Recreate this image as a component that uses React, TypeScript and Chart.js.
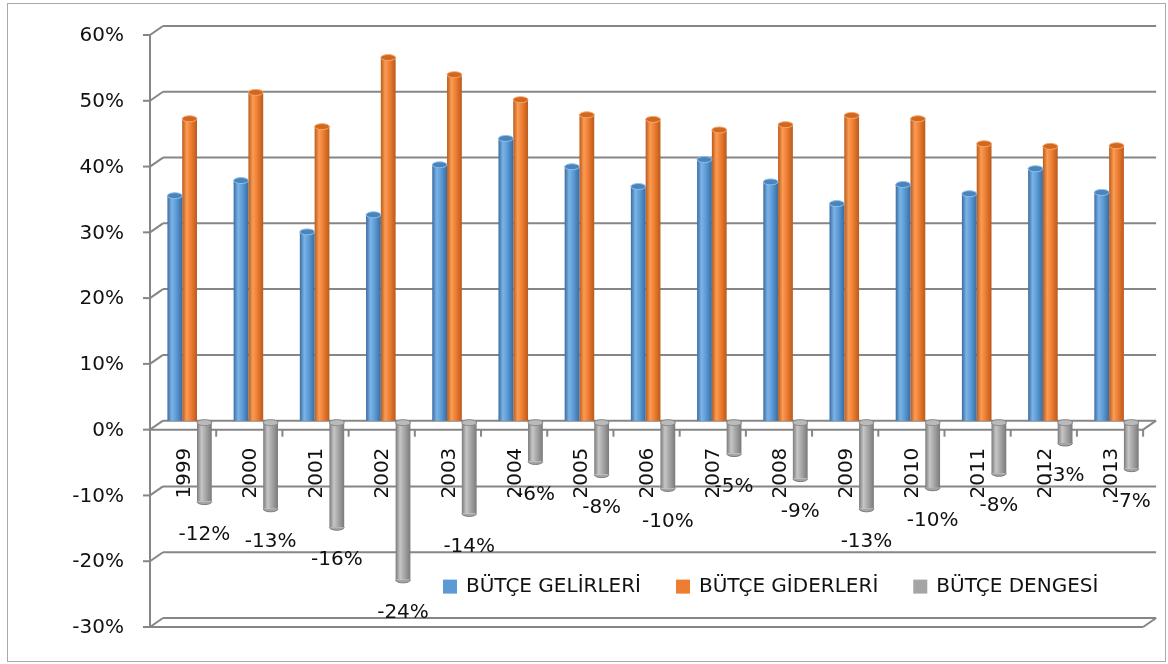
import React, { useEffect, useRef } from 'react';
import { Chart, registerables } from 'chart.js';

Chart.register(...registerables);

// ---- data ----
const categories = ['1999', '2000', '2001', '2002', '2003', '2004', '2005', '2006', '2007', '2008', '2009', '2010', '2011', '2012', '2013'];
const revenues = [34.2, 36.5, 28.7, 31.3, 38.9, 42.9, 38.6, 35.6, 39.7, 36.3, 33.0, 35.9, 34.5, 38.3, 34.7];
const expenditures = [45.9, 49.9, 44.7, 55.2, 52.6, 48.8, 46.5, 45.8, 44.2, 45.0, 46.4, 45.9, 42.1, 41.7, 41.8];
const balance = [-12.3, -13.4, -16.2, -24.2, -14.1, -6.2, -8.2, -10.3, -5.0, -8.8, -13.4, -10.2, -8.0, -3.4, -7.3];
const seriesNames = ['BÜTÇE GELİRLERİ', 'BÜTÇE GİDERLERİ', 'BÜTÇE DENGESİ'];
const yMin = -30;
const yMax = 60;
const yStep = 10;

// ---- style ----
const FONT = 'DejaVu Sans';
const FONT_SIZE = 20;
const TEXT = '#111111';
const GRID = '#868686';
const DX = 13; // 3D depth offset (x)
const DY = 9; // 3D depth offset (y)
const CAT_PCT = 0.67;

const palettes = [
  { base: '#5b9bd5', dark: '#3a6ca2', light: '#7cb3e7', cap: '#4a84bc', rim: '#8fbfea' },
  { base: '#ed7d31', dark: '#bb5a1a', light: '#fa9c55', cap: '#d2671e', rim: '#f5a86d' },
  { base: '#a5a5a5', dark: '#7a7a7a', light: '#c6c6c6', cap: '#bababa', rim: '#8a8a8a' },
];

function barFill(ctx: any) {
  const p = palettes[ctx.datasetIndex] || palettes[0];
  if (ctx.type !== 'data') return p.base;
  const xs = ctx.chart.scales && ctx.chart.scales.x;
  if (!xs || xs.right == null || !isFinite(xs.right)) return p.base;
  const n = categories.length;
  const catW = (xs.right - xs.left) / n;
  const groupW = catW * CAT_PCT;
  const barW = groupW / 3;
  const left = xs.getPixelForValue(ctx.dataIndex) - groupW / 2 + ctx.datasetIndex * barW;
  if (!isFinite(left)) return p.base;
  const g = ctx.chart.ctx.createLinearGradient(left, 0, left + barW, 0);
  g.addColorStop(0, p.dark);
  g.addColorStop(0.3, p.light);
  g.addColorStop(0.6, p.base);
  g.addColorStop(1, p.dark);
  return g;
}

const framePlugin = {
  id: 'frame3d',
  beforeDraw(chart: any) {
    const c = chart.ctx;
    c.save();
    c.strokeStyle = '#a9a9a9';
    c.lineWidth = 1;
    c.strokeRect(7.5, 3.5, 1158, 658);
    c.restore();
  },
  beforeDatasetsDraw(chart: any) {
    const c = chart.ctx;
    const ys = chart.scales.y;
    const area = chart.chartArea;
    const frontL = area.left - DX / 2;
    const backL = area.left + DX / 2;
    const frontR = area.right - DX / 2;
    const backR = area.right + DX / 2;
    c.save();
    c.strokeStyle = GRID;
    c.lineWidth = 2;
    c.lineCap = 'butt';
    const line = (x1: number, y1: number, x2: number, y2: number) => {
      c.beginPath();
      c.moveTo(x1, y1);
      c.lineTo(x2, y2);
      c.stroke();
    };
    for (let v = yMin; v <= yMax; v += yStep) {
      const yb = ys.getPixelForValue(v);
      const yf = yb + DY;
      line(backL, yb, backR, yb);
      line(frontL, yf, backL, yb);
      line(frontL - 7, yf, frontL, yf);
    }
    // front vertical axis
    line(frontL, ys.getPixelForValue(yMax) + DY, frontL, ys.getPixelForValue(yMin) + DY);
    // floor edge at zero
    const yb0 = ys.getPixelForValue(0);
    const yf0 = yb0 + DY;
    line(frontL, yf0, frontR, yf0);
    line(frontR, yf0, backR, yb0);
    const n = categories.length;
    const catW = (frontR - frontL) / n;
    for (let k = 0; k <= n; k++) {
      const x = frontL + k * catW;
      line(x, yf0, x, yf0 + 7);
    }
    // bottom floor edge
    const ybm = ys.getPixelForValue(yMin);
    const yfm = ybm + DY;
    line(frontL, yfm, frontR, yfm);
    line(frontR, yfm, backR, ybm);
    c.restore();
  },
  afterDatasetsDraw(chart: any) {
    const c = chart.ctx;
    c.save();
    chart.data.datasets.forEach((ds: any, di: number) => {
      const meta = chart.getDatasetMeta(di);
      const p = palettes[di];
      meta.data.forEach((el: any, i: number) => {
        const v = ds.data[i];
        const w = el.width;
        const rx = w / 2;
        const ry = 3;
        if (v >= 0) {
          c.beginPath();
          c.ellipse(el.x, el.y, rx, ry, 0, 0, Math.PI * 2);
          c.fillStyle = p.cap;
          c.fill();
          c.strokeStyle = p.rim;
          c.lineWidth = 1;
          c.stroke();
        } else {
          c.beginPath();
          c.ellipse(el.x, el.y, rx, ry, 0, 0, Math.PI);
          c.fillStyle = p.base;
          c.fill();
          c.strokeStyle = p.dark;
          c.lineWidth = 1;
          c.stroke();
          c.beginPath();
          c.ellipse(el.x, el.base + 2, rx, ry, 0, 0, Math.PI * 2);
          c.fillStyle = p.cap;
          c.fill();
          c.strokeStyle = p.rim;
          c.stroke();
        }
      });
    });
    // data labels on balance series
    const meta = chart.getDatasetMeta(2);
    c.fillStyle = TEXT;
    c.font = `${FONT_SIZE}px "${FONT}"`;
    c.textAlign = 'center';
    c.textBaseline = 'middle';
    meta.data.forEach((el: any, i: number) => {
      c.fillText(`${Math.round(balance[i])}%`, el.x, el.y + 33);
    });
    c.restore();
  },
  afterDraw(chart: any) {
    const c = chart.ctx;
    c.save();
    c.font = `${FONT_SIZE}px "${FONT}"`;
    c.textAlign = 'left';
    c.textBaseline = 'middle';
    const cy = chart.scales.y.getPixelForValue(-25) + 1.5;
    let x = 443;
    seriesNames.forEach((name, i) => {
      c.fillStyle = palettes[i].base;
      c.fillRect(x, cy - 7, 14, 14);
      c.fillStyle = TEXT;
      const tx = x + 23;
      c.fillText(name, tx, cy);
      x = tx + c.measureText(name).width + 35;
    });
    c.restore();
  },
};

export default function App() {
  const ref = useRef<HTMLCanvasElement>(null);
  useEffect(() => {
    if (!ref.current) return;
    const chart = new Chart(ref.current, {
      type: 'bar',
      data: {
        labels: categories,
        datasets: [
          { label: seriesNames[0], data: revenues, backgroundColor: barFill, borderWidth: 0 },
          { label: seriesNames[1], data: expenditures, backgroundColor: barFill, borderWidth: 0 },
          { label: seriesNames[2], data: balance, backgroundColor: barFill, borderWidth: 0 },
        ],
      },
      options: {
        animation: false,
        responsive: false,
        events: [],
        datasets: { bar: { categoryPercentage: CAT_PCT, barPercentage: 1 } },
        layout: { padding: { left: 0, right: 14.5, top: 26, bottom: 46 } },
        plugins: { legend: { display: false }, tooltip: { enabled: false }, title: { display: false } },
        scales: {
          x: {
            type: 'category',
            position: { y: 0 } as any,
            grid: { display: false, drawTicks: false },
            border: { display: false },
            afterFit: (s: any) => {
              s.paddingTop = 0;
              s.paddingBottom = 0;
            },
            ticks: {
              autoSkip: false,
              minRotation: 90,
              maxRotation: 90,
              padding: 27,
              labelOffset: -5,
              color: TEXT,
              font: { family: FONT, size: FONT_SIZE },
            },
          },
          y: {
            type: 'linear',
            min: yMin,
            max: yMax,
            afterFit: (s: any) => {
              s.width = 156.5;
              s.paddingTop = 0;
              s.paddingBottom = 0;
            },
            grid: { display: false, drawTicks: false },
            border: { display: false },
            ticks: {
              stepSize: yStep,
              padding: 32.5,
              labelOffset: 10,
              color: TEXT,
              font: { family: FONT, size: FONT_SIZE },
              callback: (v: any) => `${v}%`,
            },
          },
        },
      },
      plugins: [framePlugin],
    } as any);
    return () => chart.destroy();
  }, []);
  return (
    <div style={{ position: 'absolute', left: 0, top: 0, width: 1168, height: 664, background: '#ffffff' }}>
      <canvas ref={ref} width={1168} height={664} style={{ display: 'block', width: 1168, height: 664 }} />
    </div>
  );
}
